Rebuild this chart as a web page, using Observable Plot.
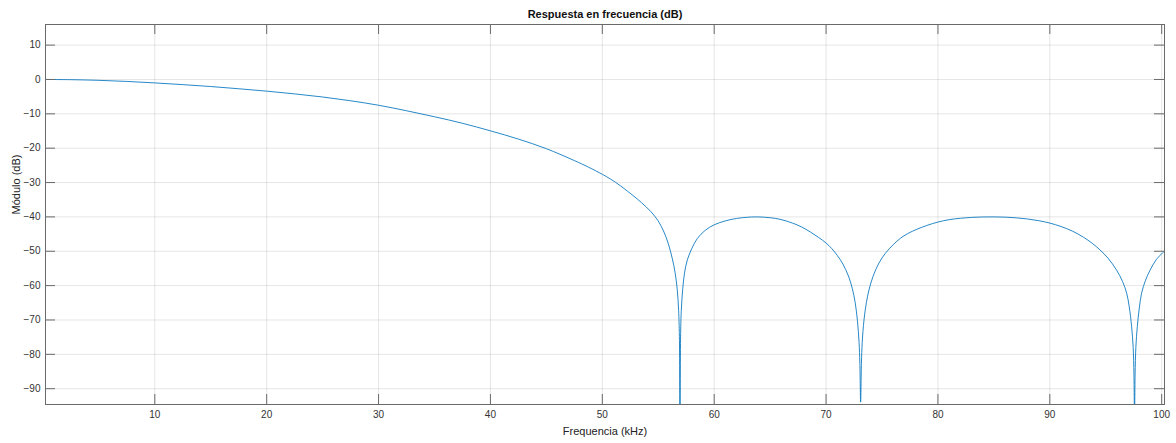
<!DOCTYPE html>
<html>
<head>
<meta charset="utf-8">
<script src="https://cdn.jsdelivr.net/npm/d3@7"></script>
<script src="https://cdn.jsdelivr.net/npm/@observablehq/plot@0.6"></script>
<style>
  html, body { margin: 0; padding: 0; background: #fff; }
  #chart svg { display: block; }
</style>
</head>
<body>
<div id="chart"></div>
<script>
// Frequency (kHz)
const freq = [
  0.23, 2.5, 5, 7.5, 10, 12.5, 15, 17.5, 20, 22.5, 25, 27.5, 30, 32.5, 35, 37.5,
  40, 42.5, 45, 47.5, 48.75, 50, 50.74, 51.64, 52.83, 53.5, 54.32, 55, 55.51, 55.9, 56.26, 56.5, 56.7, 56.82, 56.89, 56.94,
  57.0, 57.06, 57.18, 57.35, 57.6, 58.0, 58.49, 59.2, 60, 61, 62, 63, 63.7, 64.5, 65.5,
  66.24, 67, 67.8, 68.6, 69.3, 70, 70.5, 71, 71.5, 72, 72.35, 72.6, 72.8, 72.95, 73.02, 73.09,
  73.16, 73.23, 73.39, 73.6, 73.84, 74.2, 74.73, 75.3, 76, 76.65, 77.3, 78.12, 79, 80, 81, 82, 83, 84,
  85, 86, 87, 88, 89, 90, 91, 92, 93, 93.8, 94.48, 95.2, 95.97, 96.5, 96.87, 97.1, 97.31, 97.45, 97.52, 97.57,
  97.62, 97.69, 97.82, 98.0, 98.2, 98.55, 98.96, 99.5, 100.25
];
// Magnitude (dB)
const magnitude = [
  0.0, -0.06, -0.25, -0.57, -1.0, -1.5, -2.05, -2.7, -3.4, -4.2, -5.1, -6.2, -7.5, -9.1, -10.85, -12.75,
  -14.95, -17.35, -20.15, -23.6, -25.5, -27.6, -29.0, -31.0, -34.0, -35.85, -38.4, -41.2, -44.4, -47.8, -52.2, -56.1, -61.2, -67.2, -74.8, -100,
  -74, -67.2, -61.2, -56.3, -52.5, -49.2, -46.3, -43.9, -42.3, -41.15, -40.45, -40.1, -40.0, -40.1, -40.45,
  -41.0, -41.8, -42.9, -44.4, -45.9, -47.6, -49.2, -51.2, -53.7, -57.2, -60.9, -64.9, -70.1, -76.6, -82.6, -93.9,
  -82.6, -76.6, -70, -65, -61.2, -57.3, -53.4, -50.6, -48.1, -46.2, -44.85, -43.6, -42.5, -41.5, -40.8, -40.4, -40.15, -40.02,
  -40.0, -40.07, -40.27, -40.6, -41.1, -41.8, -42.8, -44.1, -45.9, -47.7, -49.6, -52.0, -55.5, -58.8, -62.2, -66.2, -71.9, -78, -86, -100,
  -86, -78, -71.9, -66.5, -62.2, -58.5, -55.5, -52.5, -49.9
];
const xTicks = [10, 20, 30, 40, 50, 60, 70, 80, 90, 100];
const yTicks = [10, 0, -10, -20, -30, -40, -50, -60, -70, -80, -90];

const title = "Respuesta en frecuencia (dB)";
const xLabel = "Frequencia (kHz)";
const yLabel = "Módulo (dB)";

const data = freq.map((f, i) => ({f, db: magnitude[i]}));

const W = 1176, H = 443;
const mT = 24, mB = 39, mL = 45, mR = 12;
const plotW = W - mL - mR, plotH = H - mT - mB;
const tickLen = 10;
const axisColor = "#6a6a6a";
const font = "'Liberation Sans', Arial, Helvetica, sans-serif";

const chart = Plot.plot({
  width: W,
  height: H,
  marginTop: mT,
  marginBottom: mB,
  marginLeft: mL,
  marginRight: mR,
  style: {fontFamily: font, fontSize: "10px", color: "#333", background: "#fff"},
  x: {domain: [0.23, 100.25], axis: null},
  y: {domain: [-94.6, 16], axis: null},
  marks: [
    Plot.gridX(xTicks, {stroke: "#000", strokeOpacity: 0.1, strokeWidth: 1}),
    Plot.gridY(yTicks, {stroke: "#000", strokeOpacity: 0.1, strokeWidth: 1}),
    Plot.line(data, {x: "f", y: "db", stroke: "#0072BD", strokeWidth: 0.85, curve: "catmull-rom", clip: true}),
    // inward tick marks, bottom/top
    Plot.ruleX(xTicks, {stroke: axisColor, insetTop: plotH - tickLen}),
    Plot.ruleX(xTicks, {stroke: axisColor, insetBottom: plotH - tickLen}),
    // inward tick marks, left/right
    Plot.ruleY(yTicks, {stroke: axisColor, insetRight: plotW - tickLen}),
    Plot.ruleY(yTicks, {stroke: axisColor, insetLeft: plotW - tickLen}),
    Plot.frame({stroke: axisColor, strokeWidth: 1}),
    Plot.axisX(xTicks, {tickSize: 0, tickPadding: 6, label: null, fill: "#333", fontSize: 10}),
    Plot.axisY(yTicks, {tickSize: 0, tickPadding: 5, label: null, fill: "#333", fontSize: 10}),
    Plot.text([xLabel], {frameAnchor: "bottom", dy: 27, fontSize: 11, fill: "#222", lineAnchor: "middle"}),
    Plot.text([yLabel], {frameAnchor: "left", dx: -29, rotate: -90, fontSize: 11, fill: "#222", lineAnchor: "middle"}),
    Plot.text([title], {frameAnchor: "top", dy: -10, fontSize: 11, fontWeight: "bold", fill: "#111", lineAnchor: "middle"})
  ]
});
document.getElementById("chart").appendChild(chart);
</script>
</body>
</html>
